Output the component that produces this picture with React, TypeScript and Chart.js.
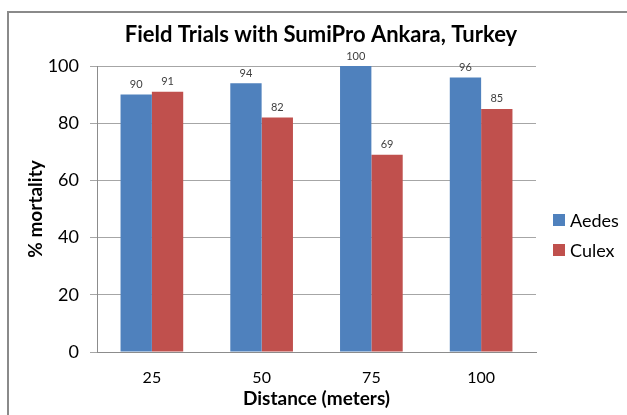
import React, { useEffect, useRef } from "react";
import { Chart, registerables } from "chart.js";

Chart.register(...registerables);

const categories = ["25", "50", "75", "100"];
const aedes = [90, 94, 100, 96];
const culex = [91, 82, 69, 85];
const seriesNames = ["Aedes", "Culex"];
const seriesColors = ["#4F81BD", "#C0504D"];
const chartTitle = "Field Trials with SumiPro Ankara, Turkey";
const xTitle = "Distance (meters)";
const yTitle = "% mortality";
const yMin = 0;
const yMax = 100;
const yStep = 20;

const overlayPlugin = {
  id: "overlay",
  afterDatasetsDraw(chart: any) {
    const ctx = chart.ctx;
    const area = chart.chartArea;
    ctx.save();
    // data labels
    ctx.font = "11px Lato";
    ctx.fillStyle = "#404040";
    ctx.textAlign = "center";
    ctx.textBaseline = "middle";
    chart.data.datasets.forEach((ds: any, i: number) => {
      const meta = chart.getDatasetMeta(i);
      meta.data.forEach((bar: any, j: number) => {
        ctx.fillText(String(ds.data[j]), bar.x, bar.y - 10);
      });
    });
    // title
    ctx.font = "bold 22px Lato";
    ctx.fillStyle = "#000";
    ctx.fillText(chartTitle, 321, 35);
    // legend
    ctx.font = "18px Lato";
    ctx.textAlign = "left";
    chart.data.datasets.forEach((ds: any, i: number) => {
      const y = 220 + i * 30;
      ctx.fillStyle = ds.backgroundColor;
      ctx.fillRect(area.right + 17, y - 6, 12, 12);
      ctx.fillStyle = "#000";
      ctx.fillText(ds.label, area.right + 34, y + 1);
    });
    ctx.restore();
  },
};

export default function App() {
  const ref = useRef<HTMLCanvasElement>(null);
  useEffect(() => {
    if (!ref.current) return;
    const chart = new Chart(ref.current, {
      type: "bar",
      data: {
        labels: categories,
        datasets: [
          { label: seriesNames[0], data: aedes, backgroundColor: seriesColors[0] },
          { label: seriesNames[1], data: culex, backgroundColor: seriesColors[1] },
        ],
      },
      options: {
        responsive: false,
        animation: false,
        devicePixelRatio: 1,
        categoryPercentage: 0.571,
        barPercentage: 1,
        layout: { padding: { top: 66, right: 91, left: 0, bottom: 0 } },
        plugins: {
          legend: { display: false },
          title: { display: false },
          tooltip: { enabled: false },
        },
        scales: {
          x: {
            grid: { display: false, drawTicks: false },
            border: { display: true, color: "#8c8c8c", width: 1 },
            ticks: { font: { family: "Lato", size: 16 }, color: "#000", padding: 16 },
            title: {
              display: true,
              text: xTitle,
              font: { family: "Lato", size: 19, weight: "bold" },
              color: "#000",
              padding: { top: 0, bottom: 5 },
            },
            afterFit(scale: any) {
              scale.height = 63;
            },
          },
          y: {
            min: yMin,
            max: yMax,
            ticks: {
              stepSize: yStep,
              font: { family: "Lato", size: 18 },
              color: "#000",
              padding: 11,
            },
            grid: { color: "#a6a6a6", tickLength: 7, lineWidth: 1 },
            border: { display: true, color: "#8c8c8c", width: 1 },
            title: {
              display: true,
              text: yTitle,
              font: { family: "Lato", size: 19, weight: "bold" },
              color: "#000",
              padding: { top: 24, bottom: 0 },
            },
            afterFit(scale: any) {
              scale.width = 97;
            },
          },
        },
      },
      plugins: [overlayPlugin],
    });
    return () => chart.destroy();
  }, []);

  return (
    <div
      style={{
        position: "fixed",
        left: 0,
        top: 0,
        width: 627,
        height: 415,
        overflow: "hidden",
        background: "#fff",
      }}
    >
      <div
        style={{
          position: "absolute",
          left: 7,
          top: 11,
          width: 700,
          height: 500,
          border: "2px solid #8a8a8a",
        }}
      />
      <canvas
        ref={ref}
        width={627}
        height={415}
        style={{ position: "absolute", left: 0, top: 0, width: 627, height: 415 }}
      />
    </div>
  );
}
